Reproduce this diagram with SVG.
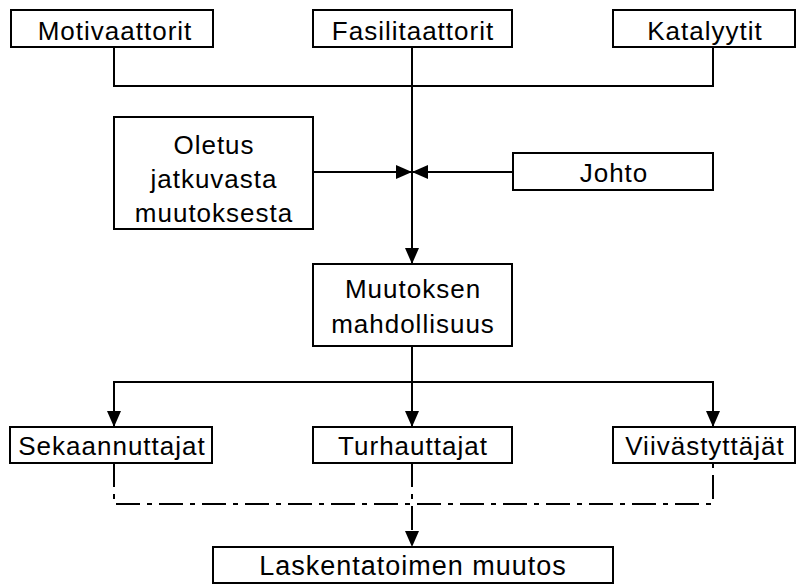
<svg xmlns="http://www.w3.org/2000/svg" width="805" height="585" viewBox="0 0 805 585">
<defs>
<style>
.box{fill:#fff;stroke:#000;stroke-width:2}
.t{font-family:"Liberation Sans",Arial,sans-serif;font-size:26px;letter-spacing:1px;fill:#000;text-anchor:middle}
.big{font-size:27px}
.ln{fill:none;stroke:#000;stroke-width:2}
.dd{fill:none;stroke:#000;stroke-width:2;stroke-dasharray:24 7 5 7}
</style>
<marker id="ah" viewBox="0 0 16 14" refX="16" refY="7" markerWidth="16" markerHeight="14" markerUnits="userSpaceOnUse" orient="auto">
<path d="M0,0 L16,7 L0,14 Z" fill="#000"/>
</marker>
</defs>
<rect width="805" height="585" fill="#fff"/>
<g id="connectors">
<path class="ln" d="M114,47 V86 H713 V47"/>
<path class="ln" d="M412,47 V264" marker-end="url(#ah)"/>
<path class="ln" d="M313,172 H412" marker-end="url(#ah)"/>
<path class="ln" d="M513,172 H412" marker-end="url(#ah)"/>
<path class="ln" d="M412,346 V382 H114 V427" marker-end="url(#ah)"/>
<path class="ln" d="M412,382 V427" marker-end="url(#ah)"/>
<path class="ln" d="M412,382 H713 V427" marker-end="url(#ah)"/>
<path class="dd" d="M114,463 V504 H713 V463"/>
<path class="dd" d="M412,463 V547" marker-end="url(#ah)"/>
</g>
<g id="motivaattorit"><rect class="box" x="11" y="10" width="202" height="37"/><text class="t" x="115" y="40">Motivaattorit</text></g>
<g id="fasilitaattorit"><rect class="box" x="313" y="10" width="199" height="37"/><text class="t" x="413" y="40">Fasilitaattorit</text></g>
<g id="katalyytit"><rect class="box" x="613" y="10" width="182" height="37"/><text class="t" x="705" y="40">Katalyytit</text></g>
<g id="oletus"><rect class="box" x="114" y="117" width="199" height="112"/><text class="t" x="214" y="154">Oletus</text><text class="t" x="214" y="188">jatkuvasta</text><text class="t" x="214" y="222">muutoksesta</text></g>
<g id="johto"><rect class="box" x="513" y="153" width="200" height="37"/><text class="t" x="614" y="182">Johto</text></g>
<g id="muutoksen"><rect class="box" x="313" y="264" width="199" height="82"/><text class="t" x="413" y="298">Muutoksen</text><text class="t" x="413" y="333">mahdollisuus</text></g>
<g id="sekaannuttajat"><rect class="box" x="10" y="427" width="202" height="36"/><text class="t" x="112" y="455">Sekaannuttajat</text></g>
<g id="turhauttajat"><rect class="box" x="313" y="427" width="199" height="36"/><text class="t" x="413" y="455">Turhauttajat</text></g>
<g id="viivastyttajat"><rect class="box" x="613" y="427" width="182" height="36"/><text class="t" x="705" y="455">Viivästyttäjät</text></g>
<g id="laskentatoimen"><rect class="box" x="213" y="547" width="400" height="36"/><text class="t big" x="413" y="575">Laskentatoimen muutos</text></g>
</svg>
